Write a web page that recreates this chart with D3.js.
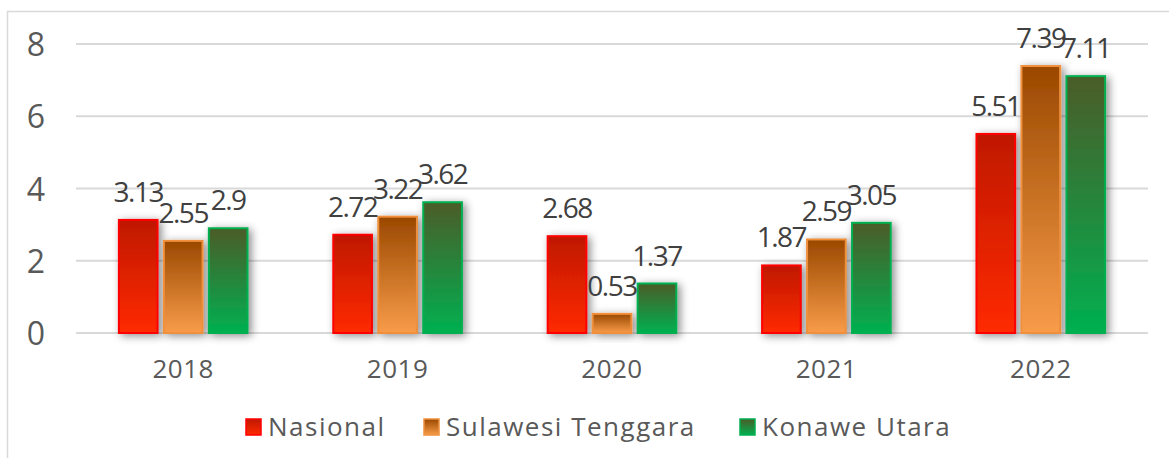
<!DOCTYPE html>
<html>
<head>
<meta charset="utf-8">
<script src="https://cdn.jsdelivr.net/npm/d3@7"></script>
<style>
  body { margin: 0; background: #fff; }
  text { font-family: "Open Sans", "Noto Sans", sans-serif; }
</style>
</head>
<body>
<div id="chart"></div>
<script>
// data
const years = ["2018", "2019", "2020", "2021", "2022"];
const seriesNames = ["Nasional", "Sulawesi Tenggara", "Konawe Utara"];
const nasional = [3.13, 2.72, 2.68, 1.87, 5.51];
const sultra = [2.55, 3.22, 0.53, 2.59, 7.39];
const konut = [2.9, 3.62, 1.37, 3.05, 7.11];
const yTicks = [0, 2, 4, 6, 8];

const seriesValues = [nasional, sultra, konut];

// colours per series: top of gradient, bottom of gradient, outline
const fills = [
  { top: "#bf1800", bottom: "#ff2a00", stroke: "#ff0000" },
  { top: "#9a4800", bottom: "#f89c4a", stroke: "#f0903c" },
  { top: "#4b5c28", bottom: "#00b050", stroke: "#00b050" }
];

const W = 1169, H = 458;
const margin = { top: 44, right: 21, bottom: 125, left: 76 },
      width = W - margin.left - margin.right,
      height = H - margin.top - margin.bottom;

const svg = d3.select("#chart").append("svg")
    .attr("width", W)
    .attr("height", H);

// outer frame
svg.append("rect")
    .attr("x", 7.5).attr("y", 11.5)
    .attr("width", W + 10).attr("height", H + 10)
    .attr("fill", "none")
    .attr("stroke", "#d9d9d9")
    .attr("stroke-width", 1.5);

const defs = svg.append("defs");
fills.forEach((f, i) => {
  const g = defs.append("linearGradient")
      .attr("id", "grad" + i)
      .attr("x1", 0).attr("y1", 0).attr("x2", 0).attr("y2", 1);
  g.append("stop").attr("offset", "0%").attr("stop-color", f.top);
  g.append("stop").attr("offset", "100%").attr("stop-color", f.bottom);
});
defs.append("filter")
    .attr("id", "shadow")
    .attr("x", "-50%").attr("y", "-50%").attr("width", "200%").attr("height", "200%")
  .append("feDropShadow")
    .attr("dx", 3).attr("dy", 2)
    .attr("stdDeviation", 4)
    .attr("flood-color", "#000")
    .attr("flood-opacity", 0.45);

const chart = svg.append("g")
    .attr("transform", `translate(${margin.left},${margin.top})`);

// scales
const x0 = d3.scaleBand()
    .domain(years)
    .range([0, width])
    .paddingInner(0)
    .paddingOuter(0);

const x1 = d3.scaleBand()
    .domain(d3.range(seriesNames.length))
    .range([x0.bandwidth() * 0.2, x0.bandwidth() * 0.8])
    .paddingInner(0.14);

const y = d3.scaleLinear()
    .domain([0, 8])
    .range([height, 0]);

// gridlines
chart.append("g")
    .selectAll("line")
    .data(yTicks)
    .join("line")
    .attr("x1", 0).attr("x2", width)
    .attr("y1", d => y(d)).attr("y2", d => y(d))
    .attr("stroke", "#d9d9d9")
    .attr("stroke-width", 2);

// y axis labels
const yAxis = chart.append("g")
    .call(d3.axisLeft(y).tickValues(yTicks).tickSize(0).tickPadding(31).tickFormat(d3.format("d")));
yAxis.select(".domain").remove();
yAxis.selectAll("text")
    .attr("font-size", 32)
    .attr("fill", "#595959")
    .attr("dy", "0.36em");

// x axis labels
const xAxis = chart.append("g")
    .attr("transform", `translate(0,${height})`)
    .call(d3.axisBottom(x0).tickSize(0).tickPadding(0));
xAxis.select(".domain").remove();
xAxis.selectAll("text")
    .attr("y", 45)
    .attr("dy", 0)
    .attr("font-size", 26)
    .attr("letter-spacing", 0.5)
    .attr("fill", "#595959");

// bars
const rows = [];
years.forEach((yr, i) => {
  seriesValues.forEach((vals, s) => rows.push({ year: yr, s: s, v: vals[i] }));
});

chart.append("g")
    .selectAll("rect")
    .data(rows)
    .join("rect")
    .attr("x", d => x0(d.year) + x1(d.s))
    .attr("y", d => y(d.v))
    .attr("width", x1.bandwidth())
    .attr("height", d => y(0) - y(d.v))
    .attr("fill", d => `url(#grad${d.s})`)
    .attr("stroke", d => fills[d.s].stroke)
    .attr("stroke-width", 2)
    .attr("filter", "url(#shadow)");

// value labels
chart.append("g")
    .selectAll("text")
    .data(rows)
    .join("text")
    .attr("x", d => x0(d.year) + x1(d.s) + x1.bandwidth() / 2)
    .attr("y", d => y(d.v) - 18)
    .attr("text-anchor", "middle")
    .attr("font-size", 28)
    .attr("letter-spacing", -1.5)
    .attr("fill", "#404040")
    .text(d => d.v);

// legend
const legendX = [246, 424, 740];
const legend = svg.append("g")
    .selectAll("g")
    .data(seriesNames)
    .join("g")
    .attr("transform", (d, i) => `translate(${legendX[i]},419)`);

legend.append("rect")
    .attr("width", 15).attr("height", 16)
    .attr("fill", (d, i) => `url(#grad${i})`)
    .attr("stroke", (d, i) => fills[i].stroke)
    .attr("stroke-width", 1.5);

legend.append("text")
    .attr("x", 22).attr("y", 8)
    .attr("dy", "0.36em")
    .attr("font-size", 26)
    .attr("letter-spacing", 1.5)
    .attr("fill", "#595959")
    .text(d => d);
</script>
</body>
</html>
